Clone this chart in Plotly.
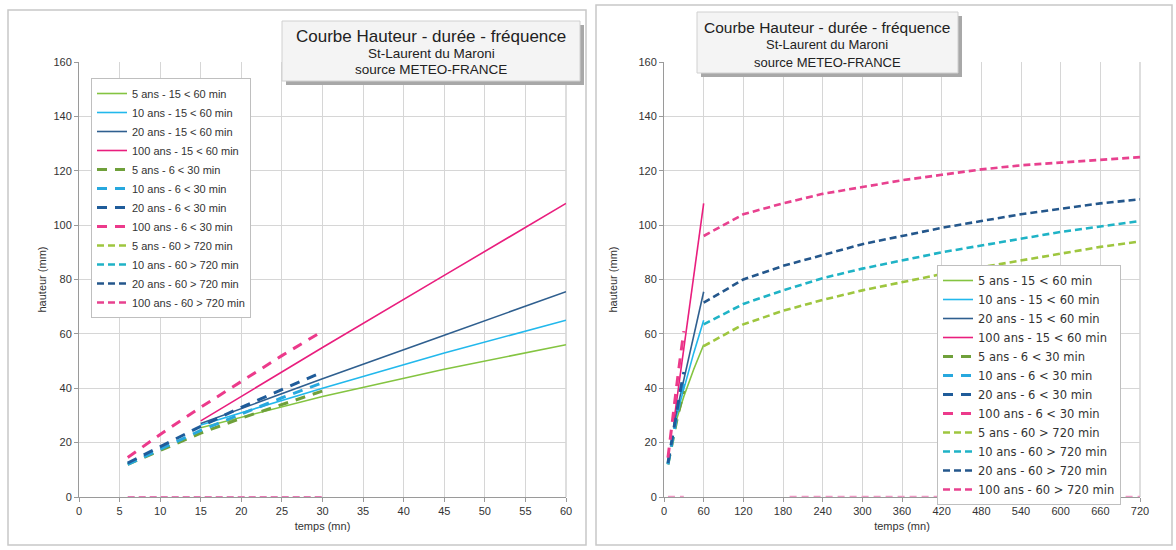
import plotly.graph_objects as go

# ---------------- data ----------------
periods = ["5 ans", "10 ans", "20 ans", "100 ans"]

t_15_60 = [15, 30, 45, 60]
h_15_60 = {
    "5 ans":   [25.5, 37.0, 47.0, 56.0],
    "10 ans":  [26.5, 40.0, 53.0, 65.0],
    "20 ans":  [27.0, 43.5, 59.5, 75.5],
    "100 ans": [28.0, 55.0, 81.5, 108.0],
}

t_6_30 = [6, 10, 15, 20, 25, 30]
h_6_30 = {
    "5 ans":   [12.0, 17.0, 23.5, 29.0, 34.0, 39.0],
    "10 ans":  [12.0, 17.5, 24.5, 30.5, 36.5, 42.0],
    "20 ans":  [12.5, 18.5, 26.0, 33.0, 39.5, 46.0],
    "100 ans": [14.5, 23.0, 33.0, 42.5, 52.0, 61.0],
}

t_60_720 = [60, 120, 180, 240, 300, 360, 420, 480, 540, 600, 660, 720]
h_60_720 = {
    "5 ans":   [55.5, 63.5, 68.5, 72.5, 76.0, 79.0, 82.0, 84.5, 87.0, 89.5, 92.0, 94.0],
    "10 ans":  [63.5, 71.0, 76.0, 80.5, 84.0, 87.0, 90.0, 92.5, 95.0, 97.5, 99.5, 101.5],
    "20 ans":  [71.5, 80.0, 85.0, 89.0, 93.0, 96.0, 99.0, 101.5, 104.0, 106.0, 108.0, 109.5],
    "100 ans": [96.0, 104.0, 108.0, 111.5, 114.0, 116.5, 118.5, 120.5, 122.0, 123.0, 124.0, 125.0],
}

# series drawn at zero (empty values in the source workbook)
zero_t_left = [6, 30]
zero_t_right_a = [6, 30]
zero_t_right_b = [190, 720]
zero_h = [0, 0]

x_ticks_left = [0, 5, 10, 15, 20, 25, 30, 35, 40, 45, 50, 55, 60]
x_ticks_right = [0, 60, 120, 180, 240, 300, 360, 420, 480, 540, 600, 660, 720]
y_ticks = [0, 20, 40, 60, 80, 100, 120, 140, 160]

title_lines = ["Courbe Hauteur - durée - fréquence", "St-Laurent du Maroni", "source METEO-FRANCE"]

# ---------------- styles ----------------
col_solid = {"5 ans": "#84C441", "10 ans": "#22B8EC", "20 ans": "#2F5F8F", "100 ans": "#E91E7E"}
col_630 = {"5 ans": "#6FA03A", "10 ans": "#27A8DE", "20 ans": "#1F5C9A", "100 ans": "#EC3A8B"}
col_720 = {"5 ans": "#9EC63F", "10 ans": "#1FB3C6", "20 ans": "#24578C", "100 ans": "#E8418F"}

W, H = 1176, 550
def px(x):
    return x / W
def py(y):
    return 1 - y / H

FONT = "Liberation Sans, Arial, sans-serif"

fig = go.Figure()

panels = [
    dict(xa="x", ya="y", legend="legend", right=False),
    dict(xa="x2", ya="y2", legend="legend2", right=True),
]

for p in panels:
    for per in periods:
        fig.add_trace(go.Scatter(
            x=t_15_60, y=h_15_60[per], mode="lines",
            name=f"{per} - 15 < 60 min",
            line=dict(color=col_solid[per], width=1.6),
            xaxis=p["xa"], yaxis=p["ya"], legend=p["legend"]))
    for per in periods:
        fig.add_trace(go.Scatter(
            x=t_6_30, y=h_6_30[per], mode="lines",
            name=f"{per} - 6 < 30 min",
            line=dict(color=col_630[per], width=3, dash="10px,8px"),
            xaxis=p["xa"], yaxis=p["ya"], legend=p["legend"]))
    for per in periods:
        fig.add_trace(go.Scatter(
            x=t_60_720, y=h_60_720[per], mode="lines",
            name=f"{per} - 60 > 720 min",
            line=dict(color=col_720[per], width=2.6, dash="7px,4px"),
            xaxis=p["xa"], yaxis=p["ya"], legend=p["legend"]))
    if not p["right"]:
        fig.add_trace(go.Scatter(
            x=zero_t_left, y=zero_h, mode="lines", showlegend=False,
            line=dict(color="#E678B4", width=2.2, dash="7px,4px"),
            xaxis=p["xa"], yaxis=p["ya"]))
    else:
        for zt in (zero_t_right_a, zero_t_right_b):
            fig.add_trace(go.Scatter(
                x=zt, y=zero_h, mode="lines", showlegend=False,
                line=dict(color="#EE98C4", width=2.4, dash="7px,5px"),
                xaxis=p["xa"], yaxis=p["ya"]))

axis_common = dict(
    showgrid=True, gridcolor="#D6D6D6", gridwidth=1,
    showline=True, linecolor="#9A9A9A", linewidth=1,
    ticks="outside", ticklen=4, tickcolor="#9A9A9A",
    tickfont=dict(family=FONT, size=11, color="#333333"),
    zeroline=False, automargin=False,
)

L = (79, 566)
R = (664, 1140)
TOP, BOT = 62, 497

fig.update_layout(
    width=W, height=H,
    margin=dict(l=0, r=0, t=0, b=0, autoexpand=False),
    paper_bgcolor="white", plot_bgcolor="white",
    font=dict(family=FONT, size=11, color="#333333"),
    xaxis=dict(domain=[px(L[0]), px(L[1])], range=[0, 60], tickvals=x_ticks_left,
               title=dict(text="temps (mn)", font=dict(size=11), standoff=6),
               anchor="y", **axis_common),
    yaxis=dict(domain=[py(BOT), py(TOP)], range=[0, 160], tickvals=y_ticks,
               title=dict(text="hauteur (mm)", font=dict(size=11), standoff=4),
               anchor="x", **axis_common),
    xaxis2=dict(domain=[px(R[0]), px(R[1])], range=[0, 720], tickvals=x_ticks_right,
                title=dict(text="temps (mn)", font=dict(size=11), standoff=6),
                anchor="y2", **axis_common),
    yaxis2=dict(domain=[py(BOT), py(TOP)], range=[0, 160], tickvals=y_ticks,
                title=dict(text="hauteur (mm)", font=dict(size=11), standoff=18),
                anchor="x2", **axis_common),
    legend=dict(x=px(91), y=py(78), xanchor="left", yanchor="top",
                bgcolor="white", bordercolor="#BFBFBF", borderwidth=1,
                font=dict(family=FONT, size=11, color="#333333"),
                tracegroupgap=0),
    legend2=dict(x=px(937), y=py(265), xanchor="left", yanchor="top",
                 bgcolor="white", bordercolor="#BFBFBF", borderwidth=1,
                 font=dict(family="DejaVu Sans, sans-serif", size=11.5, color="#333333"),
                 tracegroupgap=0),
    showlegend=True,
)

shapes = []
# right plot border line at x=60 / 720
for (x0, x1) in (L, R):
    shapes.append(dict(type="line", xref="paper", yref="paper",
                       x0=px(x1), x1=px(x1), y0=py(BOT), y1=py(TOP),
                       line=dict(color="#BDBDBD", width=1), layer="below"))
# panel frames
shapes.append(dict(type="rect", xref="paper", yref="paper",
                   x0=px(8), x1=px(586), y0=py(545), y1=py(10),
                   line=dict(color="#C8C8C8", width=1.5), layer="below"))
shapes.append(dict(type="rect", xref="paper", yref="paper",
                   x0=px(596), x1=px(1172), y0=py(545), y1=py(5),
                   line=dict(color="#C8C8C8", width=1.5), layer="below"))

annotations = []
title_boxes = [
    dict(x0=282, x1=580, y0=21, y1=81, cx=431, ys=(37, 54, 70), sizes=(17, 13.5, 13.5)),
    dict(x0=697, x1=958, y0=12, y1=73, cx=827, ys=(28, 45, 62), sizes=(15.5, 13, 13)),
]
for tb in title_boxes:
    shapes.append(dict(type="rect", xref="paper", yref="paper",
                       x0=px(tb["x0"] + 4), x1=px(tb["x1"] + 4),
                       y0=py(tb["y1"] + 4), y1=py(tb["y0"] + 4),
                       fillcolor="#A8A8A8", line=dict(width=0), layer="above"))
    shapes.append(dict(type="rect", xref="paper", yref="paper",
                       x0=px(tb["x0"]), x1=px(tb["x1"]),
                       y0=py(tb["y1"]), y1=py(tb["y0"]),
                       fillcolor="#F4F4F4", line=dict(color="#D0D0D0", width=1), layer="above"))
    for line_txt, yy, sz in zip(title_lines, tb["ys"], tb["sizes"]):
        annotations.append(dict(text=line_txt, xref="paper", yref="paper",
                                x=px(tb["cx"]), y=py(yy), xanchor="center", yanchor="middle",
                                showarrow=False, font=dict(family=FONT, size=sz, color="#222222")))

fig.update_layout(shapes=shapes, annotations=annotations)

fig.write_html("out.html", config={"displayModeBar": False},
               post_script="document.body.style.margin='0';document.body.style.padding='0';")
